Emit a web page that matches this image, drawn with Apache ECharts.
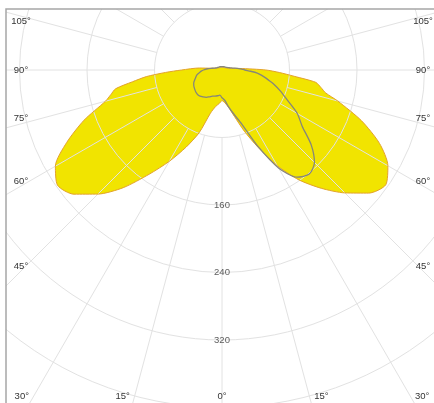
<!DOCTYPE html>
<html>
<head>
<meta charset="utf-8">
<script src="https://cdn.jsdelivr.net/npm/echarts@6/dist/echarts.min.js"></script>
<style>
  html, body { margin: 0; padding: 0; background: #fff; }
  #chart { width: 434px; height: 403px; }
</style>
</head>
<body>
<div id="chart"></div>
<script>
// Emission angles (degrees from nadir) at which intensities are given
const gamma = [0, 5, 10, 15, 20, 25, 30, 35, 40, 45, 50, 55, 60, 65, 70, 75, 77.5, 80, 82.5, 85, 87.5, 90, 95, 100, 105, 110, 120, 135, 150, 165, 180];

// Filled plane: right half and left half
const planeARight = [36, 39, 45, 57, 77, 101, 131, 159, 183, 206, 227, 237, 227, 206, 176, 142, 126, 119, 112, 86, 68, 52, 21, 11, 8, 6.5, 5, 4, 3.5, 3.2, 3.2];
const planeALeft  = [36, 40, 44, 53, 79, 101, 125, 151, 182, 208, 229, 238, 228, 203, 174, 143, 135, 128, 107, 90, 67, 48, 27, 12, 8, 6.5, 5, 4, 3.5, 3.2, 3.2];

// Outlined plane: right half and left half
const planeBRight = [33, 36, 44, 54, 68, 99, 134, 155, 161, 155, 138, 116, 103, 86, 74, 63, 57, 52, 47, 42, 34, 27, 20, 13, 10, 8, 6, 5, 4.5, 4, 4];
const planeBLeft  = [33, 30, 31, 32, 33, 35, 37.5, 39, 40.5, 41, 40.5, 39.5, 38.5, 37, 34.5, 32, 31, 29.5, 27.5, 26, 24, 22, 17, 12, 9, 7, 6, 5, 4.5, 4, 4];

// Tick labels
const radiusTicks = [160, 240, 320];
const angleTicks = [0, 15, 30, 45, 60, 75, 90, 105];

// Layout
const W = 434, H = 403;
const CX = 222, CY = 70;
const R_MAX = 480;
const R_STEP = 80;
const PX_PER_UNIT = 67.5 / 80;
const FRAME_X = 6, FRAME_Y = 9;

const GRID = '#e2e2e2';
const TEXT = '#333333';
const FONT = 'Liberation Sans';

// Build a closed polar loop: right half from nadir upward, then left half back down.
// Angle axis value: right side = gamma, left side = 360 - gamma.
function loop(right, left) {
  const pts = [];
  for (let i = 0; i < gamma.length; i++) pts.push([right[i], gamma[i]]);
  for (let i = gamma.length - 2; i >= 0; i--) pts.push([left[i], 360 - gamma[i]]);
  return pts;
}

const dataA = loop(planeARight, planeALeft);
const dataB = loop(planeBRight, planeBLeft);

// Angle labels sit where each grid ray meets the frame margin
function angleLabel(g, side) {
  const a = g * Math.PI / 180;
  const dx = side * Math.sin(a), dy = Math.cos(a);
  const xLim = 201, yBot = 326, yTop = 62;
  const tx = Math.abs(dx) > 1e-6 ? xLim / Math.abs(dx) : Infinity;
  let ty = Infinity;
  if (dy > 1e-6) ty = yBot / dy;
  else if (dy < -1e-6) ty = yTop / -dy;
  const t = Math.min(tx, ty);
  let x = CX + t * dx, y = CY + t * dy;
  if (ty <= tx) {
    if (g !== 0) x += side * 12;
  } else if (Math.abs(dy) > 1e-6) {
    y -= 5 * Math.sign(dy);
  }
  return {
    type: 'text', x: x, y: y, z: 20, silent: true,
    style: {
      text: g + '°', fill: TEXT, font: '9.5px "' + FONT + '"',
      textAlign: 'center', textVerticalAlign: 'middle'
    }
  };
}

const graphics = [];
angleTicks.forEach(g => {
  if (g === 0) graphics.push(angleLabel(0, 1));
  else { graphics.push(angleLabel(g, -1)); graphics.push(angleLabel(g, 1)); }
});
// White margin outside the frame, then the frame lines
graphics.push({ type: 'rect', z: 15, silent: true, shape: { x: 0, y: 0, width: W, height: FRAME_Y }, style: { fill: '#fff' } });
graphics.push({ type: 'rect', z: 15, silent: true, shape: { x: 0, y: 0, width: FRAME_X, height: H }, style: { fill: '#fff' } });
graphics.push({ type: 'polyline', z: 16, silent: true,
  shape: { points: [[FRAME_X, H], [FRAME_X, FRAME_Y], [W, FRAME_Y]] },
  style: { stroke: '#a6a6a6', lineWidth: 1.5, fill: null } });

const chart = echarts.init(document.getElementById('chart'), null, { renderer: 'canvas', width: W, height: H });

const hidden = { axisLine: { show: false }, axisTick: { show: false }, axisLabel: { show: false } };

chart.setOption({
  animation: false,
  backgroundColor: '#fff',
  polar: [
    // data system: circles every 80 units
    { center: [CX, CY], radius: R_MAX * PX_PER_UNIT },
    // spokes every 15 degrees, starting at the first circle
    { center: [CX, CY], radius: [R_STEP * PX_PER_UNIT, R_MAX * PX_PER_UNIT] }
  ],
  angleAxis: [
    Object.assign({ polarIndex: 0, type: 'value', min: 0, max: 360, interval: 15,
      startAngle: 270, clockwise: false, z: 2, splitLine: { show: false } }, hidden),
    Object.assign({ polarIndex: 1, type: 'value', min: 0, max: 360, interval: 15,
      startAngle: 270, clockwise: false, z: 2,
      splitLine: { show: true, lineStyle: { color: GRID, width: 1 } } }, hidden)
  ],
  radiusAxis: [
    Object.assign({ polarIndex: 0, type: 'value', min: 0, max: R_MAX, interval: R_STEP, z: 2,
      splitLine: { show: true, lineStyle: { color: GRID, width: 1 } } }, hidden),
    Object.assign({ polarIndex: 1, type: 'value', min: 0, max: 1, z: 2,
      splitLine: { show: false } }, hidden)
  ],
  series: [
    {
      name: 'fill', type: 'line', coordinateSystem: 'polar', polarIndex: 0, z: 1,
      data: dataA, symbol: 'none', smooth: 0.25, silent: true,
      lineStyle: { width: 0, opacity: 0 },
      areaStyle: { color: '#f1e400', opacity: 1 }
    },
    {
      name: 'outlineA', type: 'line', coordinateSystem: 'polar', polarIndex: 0, z: 3,
      data: dataA, symbol: 'none', smooth: 0.25, silent: true,
      lineStyle: { color: '#e3a22a', width: 1 }
    },
    {
      name: 'outlineB', type: 'line', coordinateSystem: 'polar', polarIndex: 0, z: 4,
      data: dataB, symbol: 'none', smooth: 0.25, silent: true,
      lineStyle: { color: '#86867a', width: 1.3 }
    },
    {
      name: 'radiusLabels', type: 'scatter', coordinateSystem: 'polar', polarIndex: 0, z: 6,
      data: radiusTicks.map(r => [r, 0]), symbolSize: 0.1, silent: true,
      itemStyle: { color: 'rgba(0,0,0,0)' },
      label: {
        show: true, position: 'inside', formatter: p => String(p.value[0]),
        color: TEXT, fontSize: 9.5, fontFamily: FONT
      }
    }
  ],
  graphic: graphics
});
</script>
</body>
</html>
